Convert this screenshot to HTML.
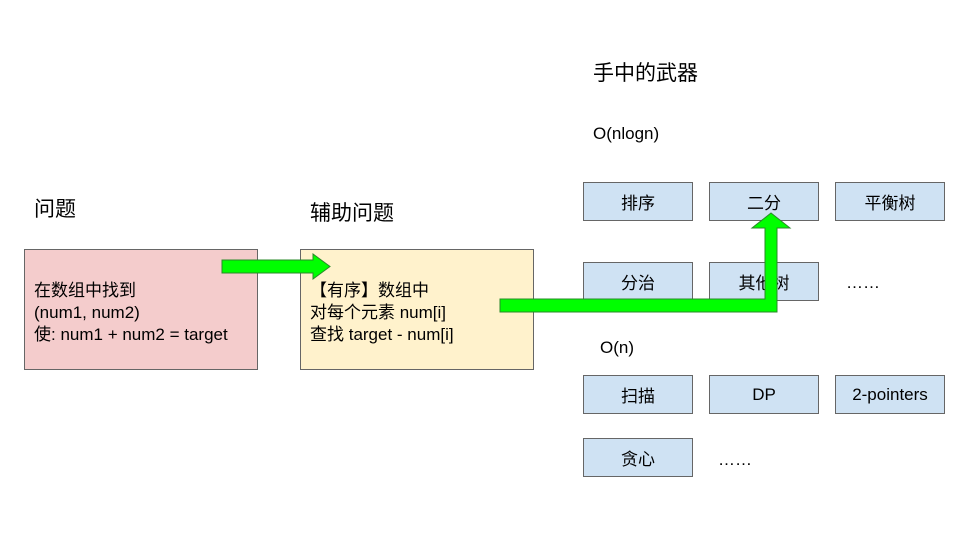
<!DOCTYPE html>
<html><head><meta charset="utf-8"><style>
body{margin:0;width:960px;height:540px;background:#fff;position:relative;overflow:hidden;font-family:"Liberation Sans","Noto Sans CJK SC",sans-serif;color:#000}
.t{position:absolute;white-space:nowrap}
.b{position:absolute;box-sizing:border-box;border:1px solid #666}
.blue{background:#cfe2f3;width:110px;height:39px;display:flex;align-items:center;justify-content:center;font-size:17px}
</style></head><body>
<div class="t" style="left:593px;top:57px;font-size:21px">手中的武器</div>
<div class="t" style="left:593px;top:124px;font-size:17px">O(nlogn)</div>
<div class="t" style="left:34px;top:193px;font-size:21px">问题</div>
<div class="t" style="left:310px;top:197px;font-size:21px">辅助问题</div>
<div class="t" style="left:600px;top:338px;font-size:17px">O(n)</div>

<div class="b" style="left:24px;top:249px;width:234px;height:121px;background:#f4cccc"></div>
<div class="t" style="left:34px;top:280px;font-size:17px;line-height:22px">在数组中找到<br>(num1, num2)<br>使: num1 + num2 = target</div>
<div class="b" style="left:300px;top:249px;width:234px;height:121px;background:#fff2cc"></div>
<div class="t" style="left:310px;top:280px;font-size:17px;line-height:22px">【有序】数组中<br>对每个元素 num[i]<br>查找 target - num[i]</div>

<div class="b blue" style="left:583px;top:182px">排序</div>
<div class="b blue" style="left:709px;top:182px">二分</div>
<div class="b blue" style="left:835px;top:182px">平衡树</div>
<div class="b blue" style="left:583px;top:262px">分治</div>
<div class="b blue" style="left:709px;top:262px">其他树</div>
<div class="t" style="left:846px;top:273px;font-size:17px">……</div>
<div class="b blue" style="left:583px;top:375px">扫描</div>
<div class="b blue" style="left:709px;top:375px">DP</div>
<div class="b blue" style="left:835px;top:375px">2-pointers</div>
<div class="b blue" style="left:583px;top:438px">贪心</div>
<div class="t" style="left:718px;top:450px;font-size:17px">……</div>

<svg width="960" height="540" style="position:absolute;left:0;top:0">
<polygon points="222,260 313,260 313,254 330,266.5 313,279 313,273 222,273" fill="#00ff00" stroke="#2a8a2a" stroke-width="1"/>
<polygon points="500,299 765,299 765,228 752,228 771,213 790,228 777,228 777,312 500,312" fill="#00ff00" stroke="#2a8a2a" stroke-width="1"/>
</svg>
</body></html>
